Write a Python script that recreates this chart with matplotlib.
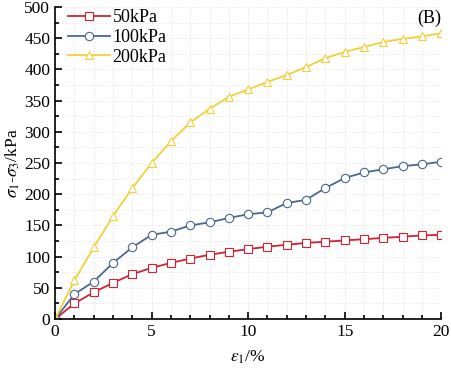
import matplotlib
matplotlib.use('Agg')
import matplotlib.pyplot as plt
from matplotlib.ticker import MultipleLocator

plt.rcParams['font.family'] = ['Liberation Serif', 'DejaVu Serif']
plt.rcParams['mathtext.fontset'] = 'stix'

strain = list(range(0, 21))
q_50 = [0, 25, 43, 58, 72, 82, 90, 97, 103, 108, 112, 116, 119, 122, 124,
        126, 128, 130, 132, 134, 135]
q_100 = [0, 40, 60, 90, 115, 135, 140, 150, 155, 162, 168, 171, 186, 191,
         210, 226, 235, 240, 245, 248, 252]
q_200 = [0, 62, 115, 165, 210, 250, 285, 315, 337, 356, 368, 380, 391, 404,
         418, 428, 436, 444, 449, 453, 458]
labels = ['50kPa', '100kPa', '200kPa']
colors = ['#d2232f', '#4a6890', '#f2d03c']
markers = ['s', 'o', '^']

fig = plt.figure(figsize=(4.52, 3.71), dpi=100)
ax = fig.add_axes([0.122, 0.140, 0.854, 0.841])

for ys, lab, c, m in zip([q_50, q_100, q_200], labels, colors, markers):
    ax.plot(strain, ys, color=c, marker=m, markersize=6, markerfacecolor='white',
            markeredgecolor=c, markeredgewidth=0.8, linewidth=1.3, label=lab)

ax.set_xlim(0, 20)
ax.set_ylim(0, 500)
ax.xaxis.set_major_locator(MultipleLocator(5))
ax.xaxis.set_minor_locator(MultipleLocator(1))
ax.yaxis.set_major_locator(MultipleLocator(50))
ax.yaxis.set_minor_locator(MultipleLocator(25))
ax.tick_params(which='both', direction='in', labelsize=12.5, width=1.2)
ax.tick_params(which='major', length=5)
ax.tick_params(which='minor', length=3)
ax.grid(which='both', color='#e6e6e6', linestyle=(0, (2, 2)), linewidth=0.6)
ax.spines['top'].set_visible(False)
ax.spines['right'].set_visible(False)
ax.spines['left'].set_linewidth(1.2)
ax.spines['bottom'].set_linewidth(1.2)

ax.set_xlabel(r'$\varepsilon_{\mathit{1}}$/%', fontsize=12.5, labelpad=6)
ax.set_ylabel(r'$\sigma_{\mathit{1}}$-$\sigma_{\mathit{3}}$/kPa', fontsize=12.5,
              labelpad=2)
ax.text(1.0, 0.99, '(B)', transform=ax.transAxes, ha='right', va='top',
        fontsize=13)
ax.legend(loc='upper left', bbox_to_anchor=(0.02, 1.01), frameon=False,
          fontsize=13, handlelength=2.3, borderaxespad=0.0, borderpad=0.3,
          labelspacing=0.15, handletextpad=0.15)

fig.savefig('out.png', dpi=100)
